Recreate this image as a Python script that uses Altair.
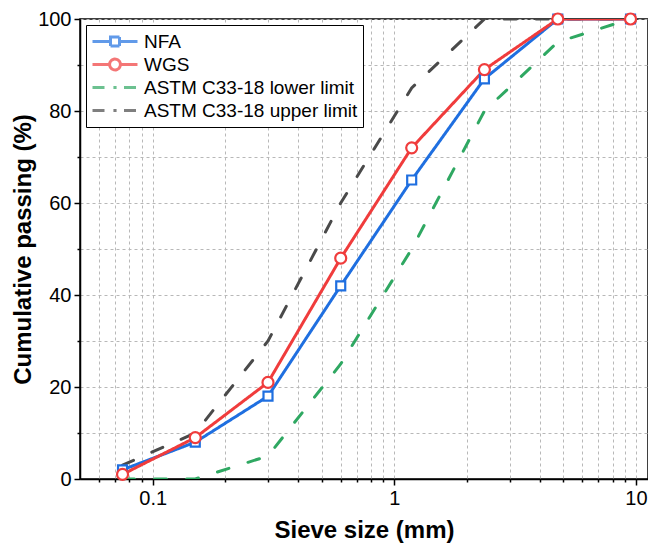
import altair as alt
import pandas as pd

# ---- data ----
sieve = [0.075, 0.15, 0.3, 0.6, 1.18, 2.36, 4.75, 9.5]
nfa = [2, 8, 18, 42, 65, 87, 100, 100]
wgs = [1, 9, 21, 48, 72, 89, 100, 100]
lower = [0, 0, 5, 25, 50, 80, 95, 100]
upper = [3, 10, 30, 60, 85, 100, 100, 100]

series = ["NFA", "WGS", "ASTM C33-18 lower limit", "ASTM C33-18 upper limit"]
colors = ["#1f6fe0", "#f03c3c", "#2fa862", "#4a4a4a"]
dashes = [[1, 0], [1, 0], [12, 20], [12, 20]]
legend_paths = [
    "M-1,0H-0.2M0.2,0H1M-0.2,-0.2H0.2V0.2H-0.2Z",
    "M-1,0H-0.24M0.24,0H1M0.24,0A0.24,0.24 0 1,1 -0.24,0A0.24,0.24 0 1,1 0.24,0Z",
    "M-1,0H-0.4M-0.07,0H0.07M0.4,0H1",
    "M-1,0H-0.4M-0.07,0H0.07M0.4,0H1",
]

x_ticks = [0.06, 0.07, 0.08, 0.09, 0.1, 0.2, 0.3, 0.4, 0.5, 0.6, 0.7, 0.8, 0.9,
           1, 2, 3, 4, 5, 6, 7, 8, 9, 10]
y_ticks = [0, 10, 20, 30, 40, 50, 60, 70, 80, 90, 100]

rows = []
for name, vals in [("ASTM C33-18 lower limit", lower), ("ASTM C33-18 upper limit", upper),
                   ("NFA", nfa), ("WGS", wgs)]:
    for s, v in zip(sieve, vals):
        rows.append({"sieve": s, "passing": v, "series": name})
df = pd.DataFrame(rows)
df_nfa = pd.DataFrame({"sieve": sieve, "passing": nfa})
df_wgs = pd.DataFrame({"sieve": sieve, "passing": wgs})

FONT = "Liberation Sans"
MAJOR_X = "datum.value == 0.1 || datum.value == 1 || datum.value == 10"

x_enc = alt.X(
    "sieve:Q",
    scale=alt.Scale(type="log", domain=[0.05, 11.22], nice=False),
    axis=alt.Axis(
        title="Sieve size (mm)",
        values=x_ticks,
        format="~g",
        labelExpr="(" + MAJOR_X + ") ? datum.label : ''",
        tickSize={"condition": {"test": MAJOR_X, "value": 6}, "value": 3},
        labelOverlap=False,
        labelFlush=False,
        titlePadding=10,
    ),
)
y_enc = alt.Y(
    "passing:Q",
    scale=alt.Scale(domain=[0, 100], nice=False),
    axis=alt.Axis(
        title="Cumulative passing (%)",
        values=y_ticks,
        labelExpr="(datum.value % 20 == 0) ? datum.label : ''",
        tickSize={"condition": {"test": "datum.value % 20 == 0", "value": 6}, "value": 3},
        labelOverlap=False,
        titlePadding=2,
    ),
)

leg = alt.Legend(
    title=None,
    orient="top-left",
    offset=6,
    padding=5,
    fillColor="white",
    strokeColor="black",
    labelFont=FONT,
    labelFontSize=19,
    labelColor="black",
    labelOffset=5,
    labelLimit=0,
    symbolSize=2025,
    symbolStrokeWidth=3,
    rowPadding=0,
    clipHeight=23,
)

color_scale = alt.Scale(domain=series, range=colors)
dash_scale = alt.Scale(domain=series, range=dashes)

lines = alt.Chart(df).mark_line(strokeWidth=3, clip=True, strokeCap="round").encode(
    x=x_enc,
    y=y_enc,
    color=alt.Color("series:N", scale=color_scale, legend=leg),
    strokeDash=alt.StrokeDash("series:N", scale=dash_scale, legend=None),
)

legend_layer = alt.Chart(df).mark_point(filled=False, strokeWidth=3).encode(
    color=alt.Color("series:N", scale=color_scale, legend=leg),
    shape=alt.Shape("series:N", scale=alt.Scale(domain=series, range=legend_paths), legend=leg),
).transform_filter("false")

pts_nfa = alt.Chart(df_nfa).mark_point(
    shape="square", size=81, fill="white", fillOpacity=1, stroke=colors[0], strokeWidth=2.2, opacity=1, clip=False
).encode(x=alt.X("sieve:Q"), y=alt.Y("passing:Q"))

pts_wgs = alt.Chart(df_wgs).mark_point(
    shape="circle", size=121, fill="white", fillOpacity=1, stroke=colors[1], strokeWidth=2.2, opacity=1, clip=False
).encode(x=alt.X("sieve:Q"), y=alt.Y("passing:Q"))

chart = alt.layer(lines, legend_layer, pts_nfa, pts_wgs).properties(
    width=568,
    height=460,
    autosize=alt.AutoSizeParams(type="none"),
    padding={"left": 72, "top": 11, "right": 0, "bottom": 68},
).configure_view(
    stroke="black", strokeWidth=1.5
).configure_axis(
    labelFont=FONT,
    labelFontSize=20,
    labelColor="black",
    titleFont=FONT,
    titleFontSize=24,
    titleFontWeight="bold",
    titleColor="black",
    domainColor="black",
    domainWidth=1.5,
    tickColor="black",
    tickWidth=1.5,
    labelPadding=3,
    grid=True,
    gridColor="#b8b8b8",
    gridDash=[3, 3],
    gridWidth=1,
)

chart.save("out.html", embed_options={"renderer": "svg", "actions": False})
